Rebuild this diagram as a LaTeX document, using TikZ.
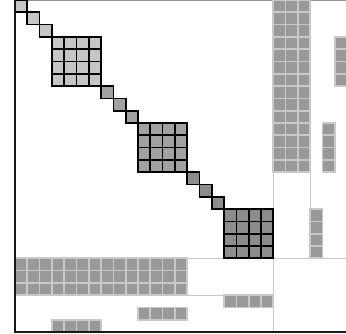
\documentclass[tikz,border=0pt]{standalone}
\usepackage{tikz}

\tikzset{
  diagcell/.style={draw=black, line width=1.9pt},
  offcell/.style={draw=gray!42, fill=gray!80, line width=1.9pt},
  sepline/.style={draw=gray!45, line width=1.6pt},
  frameline/.style={draw=black!90, line width=2pt}
}

\begin{document}
\begin{tikzpicture}[x=0.5cm,y=-0.5cm]
\useasboundingbox (-1.22,0) rectangle (26.91,27.15);
\clip (-1.22,0) rectangle (26.91,27.15);

% separators
\draw[sepline] (21,0) -- (21,27);
\draw[sepline] (24,0) -- (24,21);
\draw[sepline] (0,21) -- (27,21);
\draw[sepline] (0,24) -- (21,24);
\draw[draw=gray!85, line width=1.6pt] (0,0) -- (27,0);

% dense border rows and columns
\foreach \i in {21,22,23}
  \foreach \j in {0,...,13} {
    \draw[offcell] (\i,\j) rectangle +(1,1);
    \draw[offcell] (\j,\i) rectangle +(1,1);
  }

% coupling cells
\foreach \k/\c in {0/26,1/25,2/24}
  \foreach \j in {3,...,6} {
    \draw[offcell] (\c,7*\k+\j) rectangle +(1,1);
    \draw[offcell] (7*\k+\j,\c) rectangle +(1,1);
  }

% diagonal
\foreach \k/\col in {0/gray!45,1/gray!74,2/gray!90} {
  \foreach \i in {0,1,2}
    \draw[diagcell, fill=\col] (7*\k+\i,7*\k+\i) rectangle +(1,1);
  \foreach \i in {3,...,6}
    \foreach \j in {3,...,6}
      \draw[diagcell, fill=\col] (7*\k+\i,7*\k+\j) rectangle +(1,1);
}

% frame
\draw[frameline] (0,0) -- (0,27) -- (27,27);
\end{tikzpicture}
\end{document}
